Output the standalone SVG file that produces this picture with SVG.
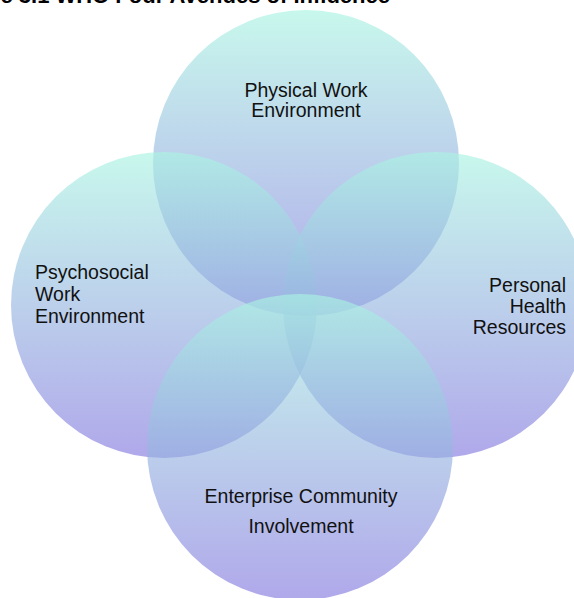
<svg xmlns="http://www.w3.org/2000/svg" width="574" height="598" viewBox="0 0 574 598">
  <style>
    .lbl { font-family: "Liberation Sans", Arial, Helvetica, sans-serif; font-size: 19.5px; fill: #111; }
    .title { font-family: "Liberation Sans", Arial, Helvetica, sans-serif; font-size: 22px; font-weight: bold; fill: #000; }
    .circ { fill: url(#g); }
  </style>
  <defs>
    <linearGradient id="g" x1="0" y1="0" x2="0" y2="1">
      <stop offset="0" stop-color="#aaf4e2" stop-opacity="0.65"/>
      <stop offset="1" stop-color="#8579df" stop-opacity="0.65"/>
    </linearGradient>
  </defs>
  <rect width="574" height="598" fill="#fff"/>
  <text class="title" x="390" y="2.5" text-anchor="end">Figure 3.1 WHO Four Avenues of Influence</text>
  <g id="physical">
    <circle class="circ" cx="306" cy="163" r="153"/>
  </g>
  <g id="psychosocial">
    <circle class="circ" cx="164" cy="305" r="153"/>
  </g>
  <g id="personal">
    <circle class="circ" cx="436" cy="305" r="153"/>
  </g>
  <g id="enterprise">
    <circle class="circ" cx="300" cy="447" r="153"/>
  </g>
  <g id="connectors"></g>
  <g id="labels">
    <text class="lbl" text-anchor="middle" x="306" y="97">Physical Work</text>
    <text class="lbl" text-anchor="middle" x="306" y="117">Environment</text>
    <text class="lbl" x="35" y="279">Psychosocial</text>
    <text class="lbl" x="35" y="301">Work</text>
    <text class="lbl" x="35" y="323">Environment</text>
    <text class="lbl" text-anchor="end" x="566" y="292">Personal</text>
    <text class="lbl" text-anchor="end" x="566" y="313">Health</text>
    <text class="lbl" text-anchor="end" x="566" y="334">Resources</text>
    <text class="lbl" text-anchor="middle" x="301" y="503">Enterprise Community</text>
    <text class="lbl" text-anchor="middle" x="301" y="533">Involvement</text>
  </g>
</svg>
